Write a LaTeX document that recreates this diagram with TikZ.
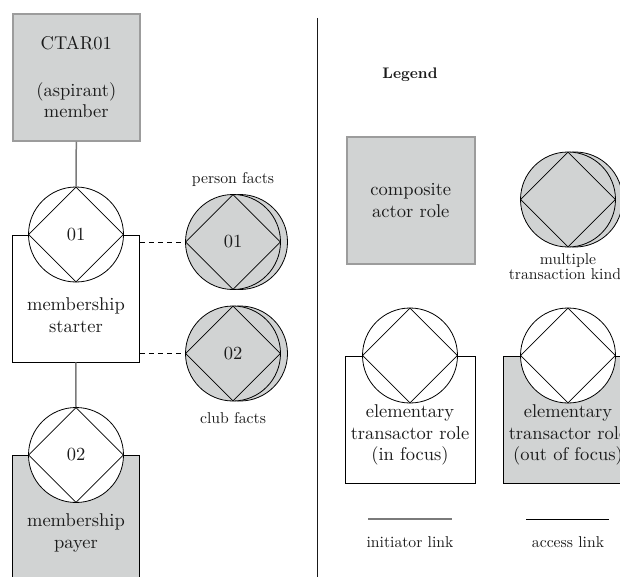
\documentclass[tikz,border=0pt]{standalone}
\usepackage{fontspec}
\setmainfont{lmroman10-regular}[Extension=.otf, BoldFont=lmroman10-bold]
\usetikzlibrary{shapes.geometric}
\definecolor{actfill}{HTML}{D1D3D3}
\definecolor{linkgray}{HTML}{7A7A7A}
\definecolor{boxedge}{HTML}{9C9C9C}
\definecolor{inkc}{HTML}{1A1A1A}
\begin{document}
\begin{tikzpicture}[x=1pt,y=-1pt,
  txt/.style={font=\fontsize{18.5}{21.5}\selectfont, text=inkc, align=center, inner sep=0},
  smalltxt/.style={font=\fontsize{15.7}{15.5}\selectfont, text=inkc, align=center, inner sep=0},
  comp/.style={rectangle, draw=boxedge, line width=1.6pt, fill=actfill, minimum width=127pt, minimum height=127pt, inner sep=0, txt},
  elem/.style={rectangle, draw=black, line width=0.8pt, fill=white, minimum width=127pt, minimum height=127pt, inner sep=0, anchor=north west},
  elemout/.style={elem, fill=actfill},
  tcircle/.style={circle, draw=black, line width=0.8pt, fill=white, minimum size=95pt, inner sep=0},
  tcirclegray/.style={tcircle, fill=actfill},
  tdiam/.style={diamond, draw=black, line width=0.8pt, minimum width=95pt, minimum height=95pt, aspect=1, inner sep=0, txt},
  initlink/.style={draw=linkgray, line width=1.5pt},
  accesslink/.style={draw=black, line width=0.8pt},
  factlink/.style={draw=black, line width=0.8pt, dash pattern=on 5pt off 4pt}
]
\useasboundingbox (0,0) rectangle (620,577);

% ---- composite actor role CTAR01
\node[comp, anchor=north west] (ctar) at (12,13) {CTAR01\\[25pt](aspirant)\\member};

% ---- elementary transactor role: membership starter
\node[elem] (starter) at (12,234.5) {};
\node[tcircle] (t01) at (76,234.5) {};
\node[tdiam] (t01d) at (76,234.5) {01};
\node[txt] (startertxt) at (76,315) {membership\\starter};

% ---- elementary transactor role: membership payer (out of focus)
\node[elemout, minimum height=150pt] (payer) at (12,455) {};
\node[tcircle] (t02) at (76,455) {};
\node[tdiam] (t02d) at (76,455) {02};
\node[txt] (payertxt) at (76,533) {membership\\payer};

% ---- initiator links
\draw[initlink] (ctar.south) -- (t01.north);
\draw[initlink] (starter.south) -- (t02.north);

% ---- multiple transaction kinds: person facts
\node[tcirclegray] (pfb) at (240,242) {};
\node[tcirclegray] (pf) at (233,242) {};
\node[tdiam] (pfd) at (233,242) {01};
\node[smalltxt] (pflbl) at (233,179) {person facts};

% ---- multiple transaction kinds: club facts
\node[tcirclegray] (cfb) at (240,353.5) {};
\node[tcirclegray] (cf) at (233,353.5) {};
\node[tdiam] (cfd) at (233,353.5) {02};
\node[smalltxt] (cflbl) at (233,418) {club facts};

% ---- access links
\draw[factlink] (pf.west -| starter.east) -- (pf.west);
\draw[factlink] (cf.west -| starter.east) -- (cf.west);

% ---- separator
\coordinate (septop) at (317,18);
\coordinate (sepbot) at (317,577);
\draw[draw=inkc, line width=1pt] (septop) -- (sepbot);

% ---- legend
\node[smalltxt, font=\fontsize{15.3}{18}\selectfont\bfseries] (legend) at (410,75) {Legend};

\node[comp, anchor=north west, minimum width=128pt] (lgcomp) at (346,136) {composite\\actor role};

\node[tcirclegray] (lgmultb) at (575,199.5) {};
\node[tcirclegray] (lgmult) at (568,199.5) {};
\node[tdiam] (lgmultd) at (568,199.5) {};
\node[smalltxt] (lgmulttxt) at (568,266.5) {multiple\\transaction kinds};

\node[elem, minimum width=130pt] (lgin) at (345,356) {};
\node[tcircle] (lginc) at (410,355.5) {};
\node[tdiam] (lgind) at (410,355.5) {};
\node[txt] (lgintxt) at (410,435) {elementary\\transactor role\\(in focus)};

\node[elemout, minimum width=130pt] (lgout) at (503,356) {};
\node[tcircle] (lgoutc) at (568,355.5) {};
\node[tdiam] (lgoutd) at (568,355.5) {};
\node[txt] (lgouttxt) at (568,435) {elementary\\transactor role\\(out of focus)};

\coordinate (ilA) at (368,519);
\coordinate (ilB) at (452,519);
\draw[initlink] (ilA) -- (ilB);
\node[smalltxt] (illbl) at (410,542) {initiator link};

\coordinate (alA) at (526,519);
\coordinate (alB) at (609,519);
\draw[accesslink] (alA) -- (alB);
\node[smalltxt] (allbl) at (568,542) {access link};
\end{tikzpicture}
\end{document}
